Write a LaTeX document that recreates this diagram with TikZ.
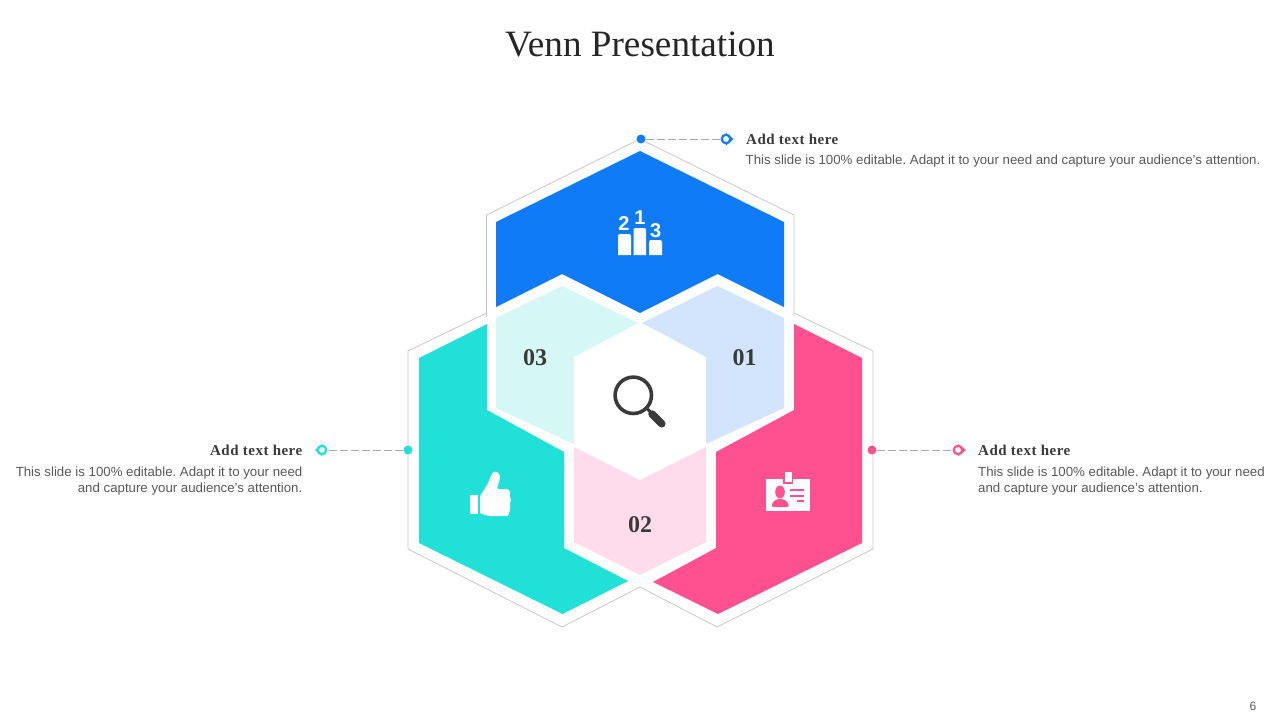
\documentclass[tikz,border=0pt]{standalone}
\usepackage{fontspec}
\setmainfont{Liberation Serif}
\setsansfont{Liberation Sans}
\newfontfamily\headfont[LetterSpace=3.3]{Liberation Serif}
\definecolor{cblue}{HTML}{0F7BF7}
\definecolor{cteal}{HTML}{20E0D8}
\definecolor{cpink}{HTML}{FF5090}
\definecolor{lblue}{HTML}{D2E5FD}
\definecolor{lteal}{HTML}{D5F8F6}
\definecolor{lpink}{HTML}{FEDCEC}
\definecolor{cgrey}{HTML}{C8C8C8}
\definecolor{cdark}{HTML}{3A3A3A}
\definecolor{ctext}{HTML}{595959}
\tikzset{
  rim/.style={draw=cgrey,line width=0.8pt,line join=miter},
  dotmark/.style={circle,inner sep=0pt,minimum size=9pt,fill=#1},
  ringmark/.style={circle,inner sep=0pt,minimum size=8.5pt,draw=#1,line width=2.2pt,fill=white},
  leader/.style={draw=cgrey!85!black,line width=0.8pt,dash pattern=on 8pt off 3pt},
  heading/.style={inner sep=0pt,font=\headfont\fontsize{15}{18}\selectfont\bfseries,text=cdark},
  bodytext/.style={inner sep=0pt,font=\sffamily\fontsize{13.25}{16}\selectfont\frenchspacing,text=ctext},
  numlabel/.style={inner sep=0pt,font=\fontsize{24}{28}\selectfont\bfseries,text=cdark},
  podnum/.style={inner sep=0pt,font=\sffamily\fontsize{20}{20}\selectfont\bfseries,text=white}
}
\begin{document}
\begin{tikzpicture}[x=1pt,y=-1pt]
\useasboundingbox (0,0) rectangle (1280,720);
\fill[white] (0,0) rectangle (1280,720);
% outlines
\draw[rim] (486.5,317) -- (486.5,215) -- (640,139) -- (794,215) -- (794,317);
\draw[rim] (486.5,313) -- (408,351) -- (408,549) -- (562,627) -- (640,587);
\draw[rim] (794,313) -- (873,351) -- (873,549) -- (717,627) -- (640,587);
% colour fills
\fill[cblue] (640,151) -- (784,222) -- (784,307) -- (717.5,274) -- (640,313) -- (562,274) -- (496,307) -- (496,222) -- cycle;
\fill[cteal] (419,358) -- (487,324) -- (487,410) -- (564,452) -- (564,548) -- (628,581) -- (562.5,614) -- (419,543) -- cycle;
\fill[cpink] (862,358) -- (794,324) -- (794,410) -- (716,452) -- (716,548) -- (653,582) -- (718,614) -- (862,543) -- cycle;
\fill[lteal] (496,318) -- (562,286) -- (638,323) -- (574,357) -- (574,444) -- (496,408) -- cycle;
\fill[lblue] (784,318) -- (717.5,286) -- (642,323) -- (706,357) -- (706,444) -- (784,408) -- cycle;
\fill[lpink] (574,447) -- (640,480) -- (706,447) -- (706,542) -- (640,575) -- (574,542) -- cycle;
% texts
\node[inner sep=0pt,font=\fontsize{37.2}{40}\selectfont,text=black!85] (title) at (640,44) {Venn Presentation};
\node[numlabel] (n3) at (535,358) {03};
\node[numlabel] (n1) at (744.5,358) {01};
\node[numlabel] (n2) at (640,525) {02};
\node[inner sep=0pt,font=\sffamily\fontsize{12}{14}\selectfont,text=ctext] (page) at (1253,706) {6};
% connectors
\node[dotmark=cblue] (dotb) at (641,139) {};
\node[dotmark=cteal] (dott) at (408,450) {};
\node[dotmark=cpink] (dotp) at (872,450) {};
\fill[cblue] (726,133) -- (733.5,139) -- (726,145.5) -- cycle;
\fill[cteal] (322,444) -- (315,450) -- (322,456) -- cycle;
\fill[cpink] (958,444) -- (966,450) -- (958,456) -- cycle;
\node[ringmark=cblue] (ringb) at (726,139) {};
\node[ringmark=cteal] (ringt) at (322,450) {};
\node[ringmark=cpink] (ringp) at (958,450) {};
\draw[leader] (dotb) -- (ringb);
\draw[leader] (dott) -- (ringt);
\draw[leader] (dotp) -- (ringp);
\node[heading,anchor=west] (hb) at (746,139) {Add text here};
\node[bodytext,anchor=west] (bb) at (745.5,161) {This slide is 100\% editable. Adapt it to your need and capture your audience’s attention.};
\node[heading,anchor=east] (ht) at (302.5,450) {Add text here};
\node[bodytext,anchor=north east,align=right] (bt) at (302.5,467) {This slide is 100\% editable. Adapt it to your need\\and capture your audience’s attention.};
\node[heading,anchor=west] (hp) at (978,450) {Add text here};
\node[bodytext,anchor=north west,align=left] (bp) at (978,467) {This slide is 100\% editable. Adapt it to your need\\and capture your audience’s attention.};
% podium icon
\fill[white] (618,255) [rounded corners=2pt] -- (618,234) -- (631,234) [sharp corners] -- (631,255) -- cycle;
\fill[white] (633.5,255) [rounded corners=2pt] -- (633.5,228) -- (646,228) [sharp corners] -- (646,255) -- cycle;
\fill[white] (649,255) [rounded corners=2pt] -- (649,240) -- (662,240) [sharp corners] -- (662,255) -- cycle;
\node[podnum] (p2) at (624,224) {2};
\node[podnum] (p1) at (640,218) {1};
\node[podnum] (p3) at (655.7,231) {3};
% magnifier icon
\draw[cdark,line width=3.6pt] (633.3,395.3) circle (18.2);
\draw[cdark,line width=3pt] (646,407.5) -- (650,411.5);
\draw[cdark,line width=7.5pt,line cap=round] (652,414) -- (661.8,423.8);
% thumb icon
\fill[white] (470,495) rectangle (478.3,514.3);
\fill[white,rounded corners=1.2pt] (480,496) -- (487,485) -- (491.5,475) -- (493,472) -- (496,471.5) -- (499.5,474) -- (500,478) -- (497,489) -- (508,489) -- (510,491) -- (509.5,496) -- (511,499) -- (510,504) -- (510,510) -- (508,516) -- (489,516) -- (480,513.5) -- cycle;
% id card icon
\fill[white] (765.7,479) rectangle (810,511);
\fill[cpink] (782.8,479) rectangle (793.2,484);
\fill[white] (784.5,472) rectangle (791.5,481.5);
\fill[cpink] (780,492) ellipse (4.8 and 6.5);
\fill[cpink,rounded corners=1.5pt] (771.5,507) -- (772.5,502.5) -- (777,499) -- (783,499) -- (788,502.5) -- (789,507) -- cycle;
\fill[cpink] (790,489) rectangle (804,491);
\fill[cpink] (790,494.7) rectangle (804,496.7);
\fill[cpink] (796.7,500) rectangle (804,502);
\end{tikzpicture}
\end{document}
